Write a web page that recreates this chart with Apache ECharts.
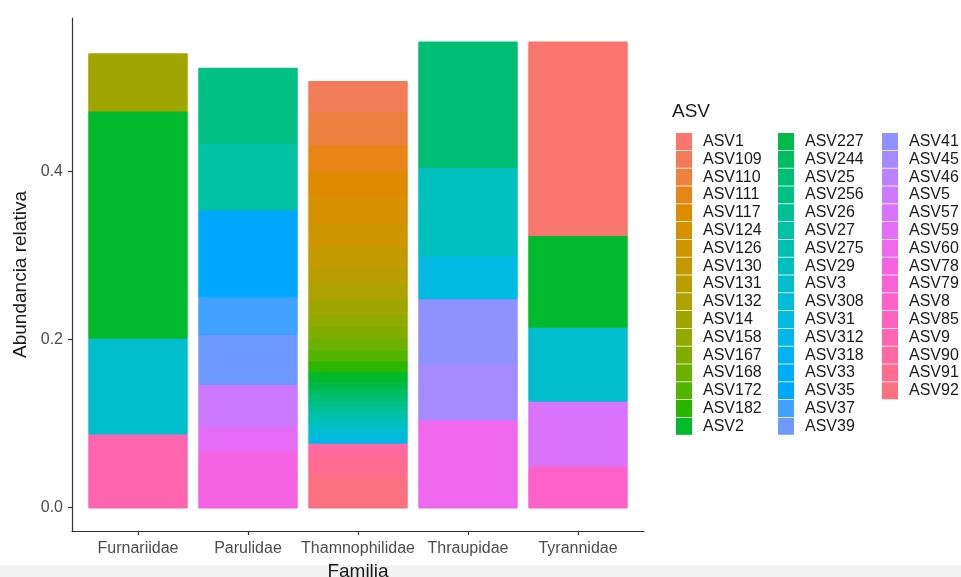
<!DOCTYPE html>
<html><head><meta charset="utf-8">
<script src="https://cdn.jsdelivr.net/npm/echarts@6/dist/echarts.min.js"></script>
<style>html,body{margin:0;padding:0;background:#fff}#c{width:961px;height:577px}</style>
</head><body><div id="c"></div>
<script>
const families = ['Furnariidae','Parulidae','Thamnophilidae','Thraupidae','Tyrannidae'];
const asvNames = ['ASV1','ASV109','ASV110','ASV111','ASV117','ASV124','ASV126','ASV130','ASV131','ASV132',
  'ASV14','ASV158','ASV167','ASV168','ASV172','ASV182','ASV2','ASV227','ASV244','ASV25',
  'ASV256','ASV26','ASV27','ASV275','ASV29','ASV3','ASV308','ASV31','ASV312','ASV318',
  'ASV33','ASV35','ASV37','ASV39','ASV41','ASV45','ASV46','ASV5','ASV57','ASV59',
  'ASV60','ASV78','ASV79','ASV8','ASV85','ASV9','ASV90','ASV91','ASV92'];
const furnariidae = [0,0,0,0,0,0,0,0,0,0,
  0.068,0,0,0,0,0,0.270,0,0,0,
  0,0,0,0,0,0.114,0,0,0,0,
  0,0,0,0,0,0,0,0,0,0,
  0,0,0,0,0,0.088,0,0,0];
const parulidae = [0,0,0,0,0,0,0,0,0,0,
  0,0,0,0,0,0,0,0,0,0,
  0.089,0,0.080,0,0,0,0,0,0,0,
  0,0.103,0.045,0.059,0,0,0,0.050,0,0.029,
  0,0.068,0,0,0,0,0,0,0];
const thamnophilidae = [0,0.036,0.039,0.032,0.030,0.032,0.027,0.024,0.020,0.019,
  0.017,0.015,0.014,0.014,0.013,0.013,0.012,0.008,0.007,0.007,
  0.006,0.006,0.006,0.006,0.006,0.006,0.005,0.005,0.005,0,
  0,0,0,0,0,0,0,0,0,0,
  0,0,0,0,0,0,0.015,0.024,0.038];
const thraupidae = [0,0,0,0,0,0,0,0,0,0,
  0,0,0,0,0,0,0,0,0,0.149,
  0,0,0,0,0.105,0,0,0.051,0,0,
  0,0,0,0,0.077,0.067,0,0,0,0,
  0.105,0,0,0,0,0,0,0,0];
const tyrannidae = [0.230,0,0,0,0,0,0,0,0,0,
  0,0,0,0,0,0,0.109,0,0,0,
  0,0,0,0,0,0.088,0,0,0,0,
  0,0,0,0,0,0,0,0,0.077,0,
  0,0,0,0.050,0,0,0,0,0];
const familyValues = [furnariidae, parulidae, thamnophilidae, thraupidae, tyrannidae];
const yTicks = [0, 0.2, 0.4];
const yMin = -0.0278, yMax = 0.582;

// ggplot2 default hue palette colours (hcl, c=100, l=65)
function hcl(h, c, l) {
  const Xn = 95.047, Yn = 100.0, Zn = 108.883;
  const den = Xn + 15 * Yn + 3 * Zn;
  const un = 4 * Xn / den, vn = 9 * Yn / den;
  const hr = h * Math.PI / 180;
  const U = c * Math.cos(hr), V = c * Math.sin(hr);
  const Y = Yn * (l > 8 ? Math.pow((l + 16) / 116, 3) : l / 903.3);
  const u = U / (13 * l) + un, v = V / (13 * l) + vn;
  const X = 9 * Y * u / (4 * v);
  const Z = -X / 3 - 5 * Y + 3 * Y / v;
  const lin = [
    (3.240479 * X - 1.537150 * Y - 0.498535 * Z) / 100,
    (-0.969256 * X + 1.875992 * Y + 0.041556 * Z) / 100,
    (0.055648 * X - 0.204043 * Y + 1.057311 * Z) / 100];
  return '#' + lin.map(x => {
    let g = x <= 0.0031308 ? 12.92 * x : 1.055 * Math.pow(x, 1 / 2.4) - 0.055;
    g = Math.max(0, Math.min(1, g));
    return Math.round(g * 255).toString(16).padStart(2, '0');
  }).join('');
}
const n = asvNames.length;
const colors = asvNames.map((_, i) => hcl(15 + i * 360 / n, 100, 65));

const series = [];
for (let i = n - 1; i >= 0; i--) {
  series.push({
    name: asvNames[i], type: 'bar', stack: 'total', barWidth: '90%',
    xAxisIndex: 0, yAxisIndex: 0,
    itemStyle: { color: colors[i], borderWidth: 0, shadowColor: colors[i], shadowBlur: 0, shadowOffsetY: 1 },
    data: familyValues.map(arr => (arr[i] === 0 ? '-' : arr[i]))
  });
}

const FONT = 'Liberation Sans, Arial, sans-serif';
const legendCols = [asvNames.slice(0, 17), asvNames.slice(17, 34), asvNames.slice(34)];
const legendLefts = [676, 778, 882];
const legends = legendCols.map((col, k) => ({
  data: col, orient: 'vertical', left: legendLefts[k], top: 133,
  itemWidth: 16, itemHeight: 17, itemGap: 0.8, icon: 'rect', padding: 0,
  selectedMode: false,
  itemStyle: { borderWidth: 0, shadowColor: 'rgba(0,0,0,0)', shadowOffsetY: 0, shadowBlur: 0 },
  textStyle: { fontFamily: FONT, fontSize: 16, color: '#1a1a1a', padding: [0, 0, 0, 6] }
}));

const chart = echarts.init(document.getElementById('c'));
chart.setOption({
  animation: false,
  backgroundColor: '#ffffff',
  grid: [
    { left: 83, top: 18, width: 550, height: 513, containLabel: false, outerBoundsMode: 'none' },
    { left: 72, top: 18, width: 572, height: 513, containLabel: false, outerBoundsMode: 'none' }
  ],
  xAxis: [{
    type: 'category', gridIndex: 0, data: families,
    name: 'Familia', nameLocation: 'middle', nameGap: 30,
    nameTextStyle: { fontFamily: FONT, fontSize: 19, color: '#1a1a1a' },
    axisLine: { show: false, onZero: false },
    axisTick: { show: true, alignWithLabel: true, length: 4, lineStyle: { color: '#333', width: 1.2 } },
    axisLabel: { interval: 0, margin: 10, fontFamily: FONT, fontSize: 16, color: '#4d4d4d' },
    splitLine: { show: false }
  }, {
    type: 'value', gridIndex: 1, min: 0, max: 1,
    axisLine: { show: true, onZero: false, lineStyle: { color: '#333', width: 1.2 } },
    axisTick: { show: false }, axisLabel: { show: false }, splitLine: { show: false }
  }],
  yAxis: [{
    type: 'value', gridIndex: 0, min: yMin, max: yMax, show: false
  }, {
    type: 'value', gridIndex: 1, min: yMin, max: yMax,
    name: 'Abundancia relativa', nameLocation: 'middle', nameGap: 40, nameRotate: 90,
    nameTextStyle: { fontFamily: FONT, fontSize: 19, color: '#1a1a1a' },
    axisLine: { show: true, onZero: false, lineStyle: { color: '#333', width: 1.2 } },
    axisTick: { show: true, length: 4, customValues: yTicks, lineStyle: { color: '#333', width: 1.2 } },
    axisLabel: { customValues: yTicks, margin: 9, fontFamily: FONT, fontSize: 16, color: '#4d4d4d',
      formatter: v => v.toFixed(1) },
    splitLine: { show: false }
  }],
  legend: legends,
  graphic: [
    { type: 'rect', left: 0, top: 565, z: -10, silent: true, shape: { width: 961, height: 12 }, style: { fill: '#f1f1f1' } },
    { type: 'text', left: 672, top: 102, style: { text: 'ASV', fontFamily: FONT, fontSize: 19, fill: '#1a1a1a' } }
  ],
  series: series
});
</script></body></html>
